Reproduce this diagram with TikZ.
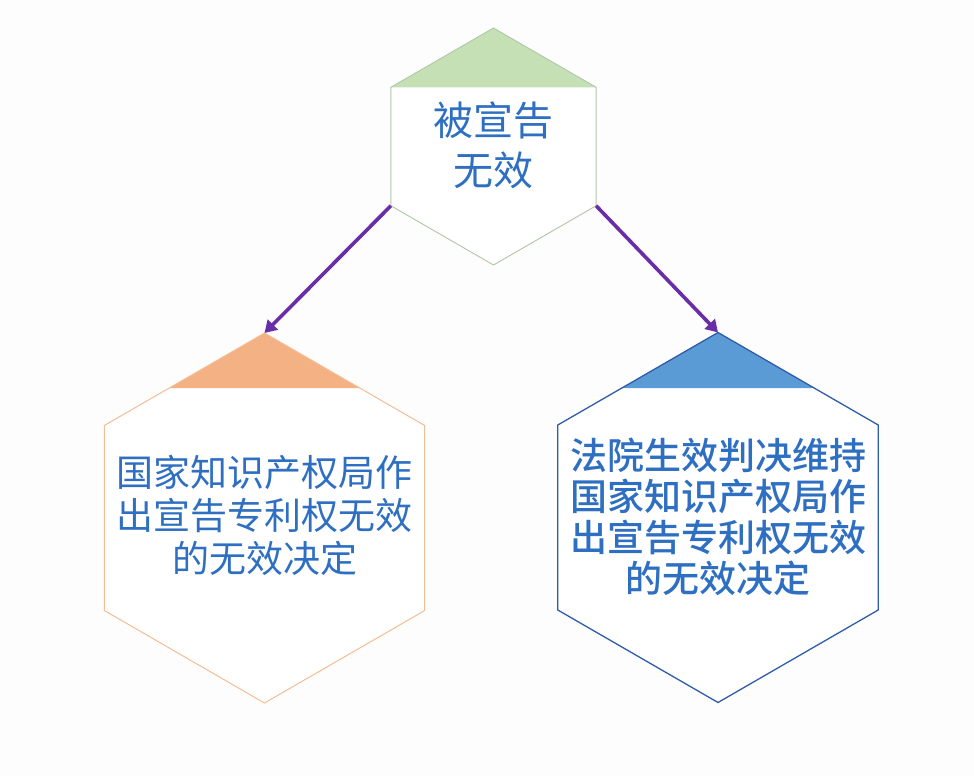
\documentclass[tikz,border=0pt]{standalone}
\usepackage{fontspec}
\newfontfamily\cjk{Noto Sans CJK SC}
\newfontfamily\cjkm{Noto Sans CJK SC Medium}
\usetikzlibrary{arrows.meta}
\definecolor{bgc}{HTML}{FDFDFE}
\definecolor{txtc}{HTML}{2E6FC2}
\definecolor{capG}{HTML}{C5E0B4}
\definecolor{capO}{HTML}{F4B183}
\definecolor{capB}{HTML}{5B9BD5}
\definecolor{lineG}{HTML}{B2C6A8}
\definecolor{lineO}{HTML}{F4BE94}
\definecolor{lineB}{HTML}{2F5CA8}
\definecolor{arr}{HTML}{6A2DA8}
\tikzset{
  hextext/.style={text=txtc, align=center, inner sep=0pt},
  conn/.style={draw=arr, line width=3.6pt, -{Triangle[length=12pt,width=14pt]}, shorten <=0pt},
}
\begin{document}
\begin{tikzpicture}[x=1pt,y=-1pt]
\useasboundingbox (0,0) rectangle (974,776);
\fill[bgc] (0,0) rectangle (974,776);
% ---- top hexagon ----
\coordinate (tN) at (493.5,28);
\coordinate (tNE) at (596.1,87.25);
\coordinate (tSE) at (596.1,205.75);
\coordinate (tS) at (493.5,265);
\coordinate (tSW) at (390.9,205.75);
\coordinate (tNW) at (390.9,87.25);
\fill[white] (tN)--(tNE)--(tSE)--(tS)--(tSW)--(tNW)--cycle;
\fill[capG] (tN)--(tNE)--(tNW)--cycle;
\draw[lineG, line width=0.9pt, line join=miter] (tN)--(tNE)--(tSE)--(tS)--(tSW)--(tNW)--cycle;
\node[hextext, font=\cjk\fontsize{40}{50}\selectfont] (top) at (493.5,145) {被宣告\\无效};
% ---- left hexagon ----
\coordinate (lN) at (264.5,333);
\coordinate (lNE) at (424.7,425.5);
\coordinate (lSE) at (424.7,610.5);
\coordinate (lS) at (264.5,703);
\coordinate (lSW) at (104.3,610.5);
\coordinate (lNW) at (104.3,425.5);
\fill[white] (lN)--(lNE)--(lSE)--(lS)--(lSW)--(lNW)--cycle;
\fill[capO] (lN)--(359.8,388)--(169.2,388)--cycle;
\draw[lineO, line width=1pt, line join=miter] (lN)--(lNE)--(lSE)--(lS)--(lSW)--(lNW)--cycle;
\node[hextext, font=\cjk\fontsize{37}{43}\selectfont] (left) at (264.5,515) {国家知识产权局作\\出宣告专利权无效\\的无效决定};
% ---- right hexagon ----
\coordinate (rN) at (718,332.5);
\coordinate (rNE) at (878.2,425);
\coordinate (rSE) at (878.2,610);
\coordinate (rS) at (718,702.5);
\coordinate (rSW) at (557.8,610);
\coordinate (rNW) at (557.8,425);
\fill[white] (rN)--(rNE)--(rSE)--(rS)--(rSW)--(rNW)--cycle;
\fill[capB] (rN)--(814.1,388)--(621.9,388)--cycle;
\draw[lineB, line width=1.3pt, line join=miter] (rN)--(rNE)--(rSE)--(rS)--(rSW)--(rNW)--cycle;
\node[hextext, font=\cjkm\fontsize{37}{41}\selectfont] (right) at (718,517) {法院生效判决维持\\国家知识产权局作\\出宣告专利权无效\\的无效决定};
% ---- connectors ----
\draw[conn] (tSW) -- (lN);
\draw[conn] (tSE) -- (rN);
\end{tikzpicture}
\end{document}
